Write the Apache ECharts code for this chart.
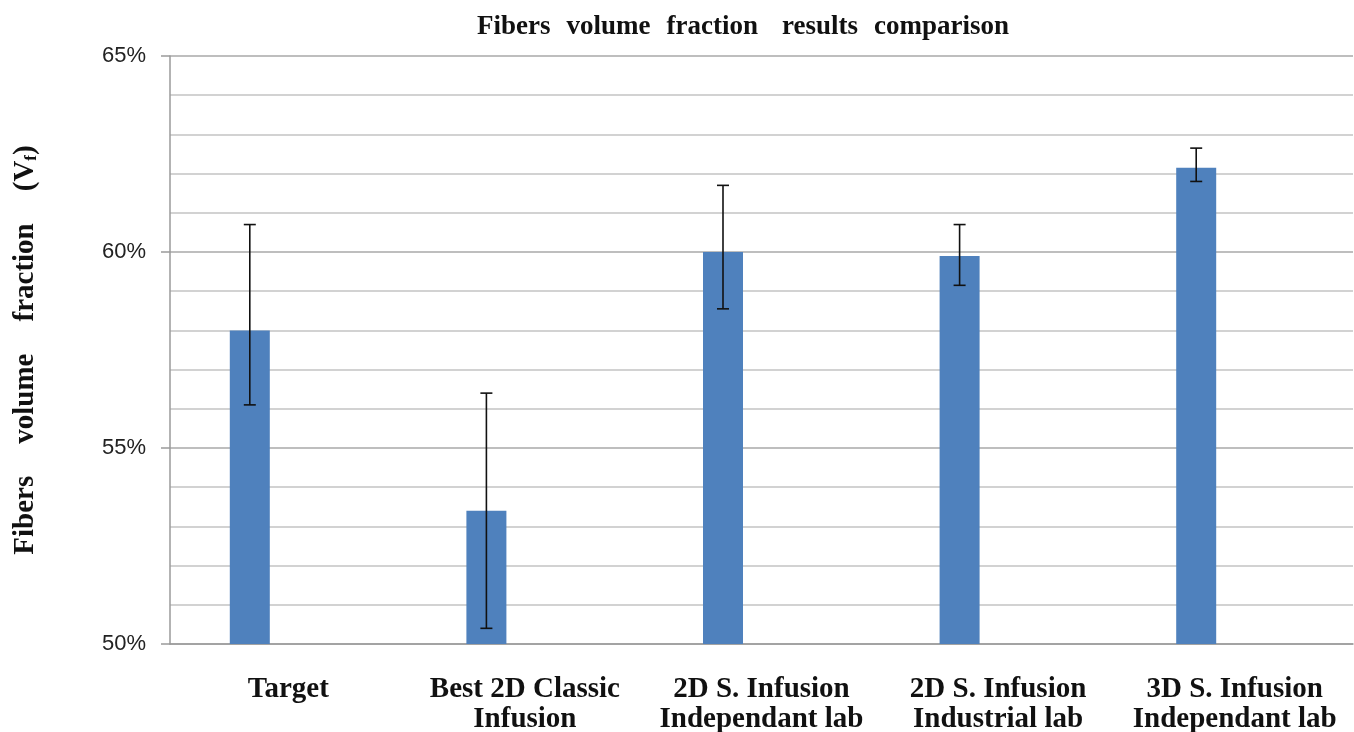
<!DOCTYPE html>
<html>
<head>
<meta charset="utf-8">
<script src="https://cdn.jsdelivr.net/npm/echarts@6/dist/echarts.min.js"></script>
<style>html,body{margin:0;padding:0;background:#fff}#c{width:1354px;height:732px}</style>
</head>
<body>
<div id="c"></div>
<script>
const categories = ['Target', 'Best 2D Classic\nInfusion', '2D S. Infusion\nIndependant lab', '2D S. Infusion\nIndustrial lab', '3D S. Infusion\nIndependant lab'];
const values = [58.0, 53.4, 60.0, 59.9, 62.15];
const errLow = [56.1, 50.4, 58.55, 59.15, 61.8];
const errHigh = [60.7, 56.4, 61.7, 60.7, 62.65];
const yTicks = [50, 55, 60, 65];

const BAR_W = 40;
const BAR_GAP = 0.925;
const serif = '"Liberation Serif", "Times New Roman", serif';

const chart = echarts.init(document.getElementById('c'));
chart.setOption({
  animation: false,
  backgroundColor: '#fff',
  title: {
    text: '{t|Fibers}{g|}{t|volume}{g|}{t|fraction}{g2|}{t|results}{g|}{t|comparison}',
    left: 472, top: 9,
    textStyle: {
      rich: {
        t: { fontFamily: serif, fontWeight: 'bold', fontSize: 27, color: '#111' },
        g: { width: 16 },
        g2: { width: 24 }
      }
    }
  },
  grid: { left: 170, right: 1, top: 56, bottom: 88, outerBoundsMode: 'none' },
  xAxis: {
    type: 'category',
    data: categories,
    axisLine: { lineStyle: { color: '#9a9a9a', width: 1.5 } },
    axisTick: { show: false },
    axisLabel: { interval: 0, margin: 31, fontFamily: serif, fontWeight: 'bold', fontSize: 29, color: '#111', lineHeight: 30 }
  },
  yAxis: {
    type: 'value',
    min: yTicks[0], max: yTicks[yTicks.length - 1], interval: 5,
    name: '{b|Fibers}{g|}{b|volume}{g|}{b|fraction}{g|}{b|(V}{s|f}{b|)}',
    nameLocation: 'middle', nameRotate: 90, nameGap: 130,
    nameTextStyle: {
      rich: {
        b: { fontFamily: serif, fontWeight: 'bold', fontSize: 29, color: '#111' },
        s: { fontFamily: serif, fontWeight: 'bold', fontSize: 17, color: '#111', verticalAlign: 'bottom', padding: [11, 0, 0, 0] },
        g: { width: 32 }
      }
    },
    axisLine: { show: true, lineStyle: { color: '#9a9a9a', width: 1.5 } },
    axisTick: { show: true, length: 9, lineStyle: { color: '#9a9a9a', width: 1.5 } },
    axisLabel: { formatter: '{value}%', fontFamily: '"Liberation Sans", Arial, sans-serif', fontSize: 22, color: '#222', margin: 24 },
    splitLine: { lineStyle: { color: '#a8a8a8', width: 1.5 } },
    minorTick: { show: false, splitNumber: 5 },
    minorSplitLine: { show: true, lineStyle: { color: '#c4c4c4', width: 1.5 } }
  },
  series: [
    {
      type: 'bar', data: values, barWidth: BAR_W, barGap: (BAR_GAP * 100) + '%',
      itemStyle: { color: '#4F81BD' }, z: 2
    },
    {
      type: 'bar', data: values.map(() => null), barWidth: BAR_W
    },
    {
      type: 'custom',
      data: values.map((v, i) => [i, errLow[i], errHigh[i]]),
      z: 5,
      renderItem: function (params, api) {
        const i = api.value(0);
        const offset = -(BAR_W + BAR_W * BAR_GAP) / 2;
        const lo = api.coord([i, api.value(1)]);
        const hi = api.coord([i, api.value(2)]);
        const x = lo[0] + offset;
        const cap = 6;
        const style = { stroke: '#111', lineWidth: 1.6 };
        return {
          type: 'group',
          children: [
            { type: 'line', shape: { x1: x, y1: hi[1], x2: x, y2: lo[1] }, style },
            { type: 'line', shape: { x1: x - cap, y1: hi[1], x2: x + cap, y2: hi[1] }, style },
            { type: 'line', shape: { x1: x - cap, y1: lo[1], x2: x + cap, y2: lo[1] }, style }
          ]
        };
      }
    }
  ]
});
</script>
</body>
</html>
